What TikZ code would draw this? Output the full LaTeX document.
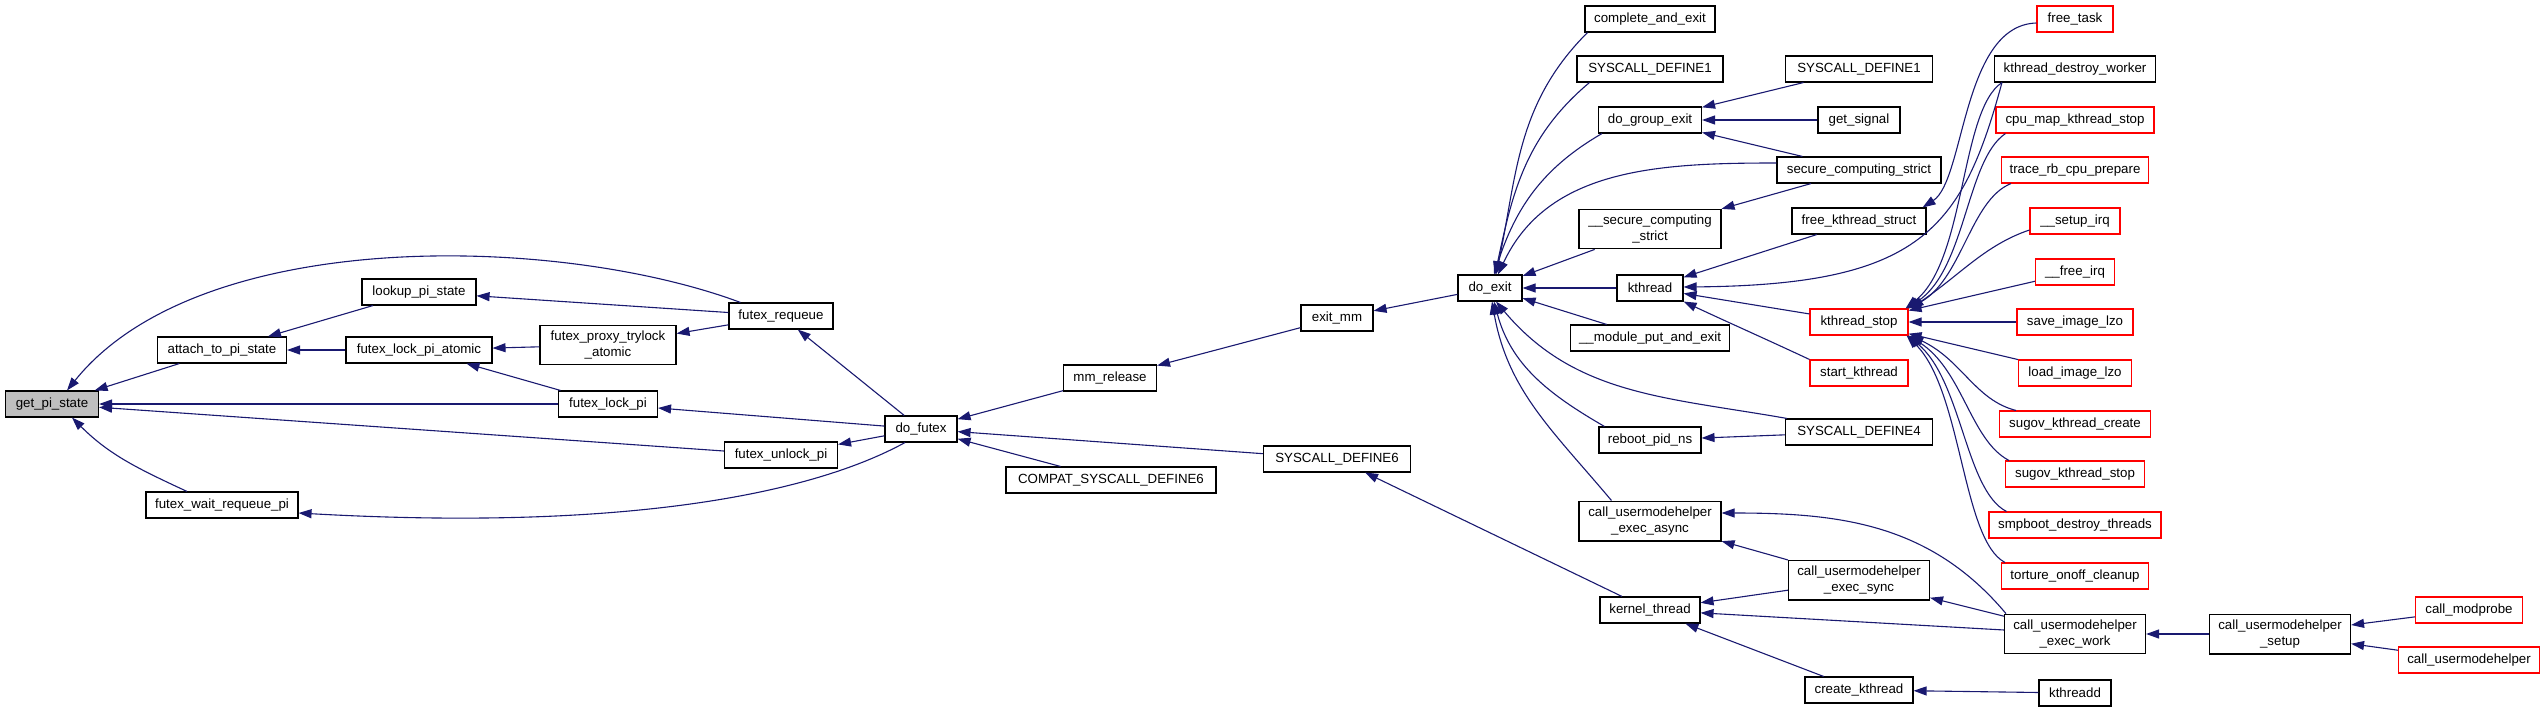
\documentclass[tikz,border=0pt]{standalone}
\usepackage{fontspec}
\setmainfont{Liberation Sans}
\usepackage{xcolor}
\usepackage{tikz}
\usetikzlibrary{arrows.meta}

\definecolor{edgeblue}{HTML}{191970}
\definecolor{rootgray}{HTML}{BFBFBF}

\begin{document}
\begin{tikzpicture}[
        x=1pt, y=1pt,
        font=\fontsize{13.3}{15.5}\selectfont,
        >={Triangle[length=13pt,width=9pt]},
        % box styles
        fn_node/.style={draw=black, fill=white, line width=1.1pt, inner xsep=4pt, inner ysep=6pt, minimum height=26pt, align=center},
        trunc_node/.style={fn_node, draw=red},
        root_node/.style={fn_node, fill=rootgray},
        call_arrow/.style={->, line width=1.1pt, draw=edgeblue}
    ]

    \useasboundingbox (0,0) rectangle (2545,-712);

    % ==========================================
    % 1. nodes, column by column
    % ==========================================

    % --- futex side ---
    \node[root_node, minimum width=93pt] (get_pi) at (52,-404) {get\_pi\_state};
    \node[fn_node, minimum width=129pt] (attach_pi) at (222,-350) {attach\_to\_pi\_state};
    \node[fn_node, minimum width=152pt] (wait_requeue) at (222,-505) {futex\_wait\_requeue\_pi};
    \node[fn_node, minimum width=114pt] (lookup_pi) at (419,-292) {lookup\_pi\_state};
    \node[fn_node, minimum width=146pt] (lock_atomic) at (419,-350) {futex\_lock\_pi\_atomic};
    \node[fn_node, minimum width=136pt] (proxy_trylock) at (608,-345) {futex\_proxy\_trylock\\\_atomic};
    \node[fn_node, minimum width=99pt] (lock_pi) at (608,-404) {futex\_lock\_pi};
    \node[fn_node, minimum width=104pt] (requeue) at (781,-316) {futex\_requeue};
    \node[fn_node, minimum width=113pt] (unlock_pi) at (781,-455) {futex\_unlock\_pi};
    \node[fn_node, minimum width=72pt] (do_futex) at (921,-429) {do\_futex};
    \node[fn_node, minimum width=93pt] (mm_release) at (1110,-378) {mm\_release};
    \node[fn_node, minimum width=210pt] (compat_sys6) at (1111,-480) {COMPAT\_SYSCALL\_DEFINE6};
    \node[fn_node, minimum width=72pt] (exit_mm) at (1337,-318) {exit\_mm};
    \node[fn_node, minimum width=147pt] (sys6) at (1337,-459) {SYSCALL\_DEFINE6};

    % --- do_exit and its callers ---
    \node[fn_node, minimum width=64pt] (do_exit) at (1490,-288) {do\_exit};
    \node[fn_node, minimum width=130pt] (complete_exit) at (1650,-19) {complete\_and\_exit};
    \node[fn_node, minimum width=146pt] (sys1_a) at (1650,-69) {SYSCALL\_DEFINE1};
    \node[fn_node, minimum width=103pt] (group_exit) at (1650,-120) {do\_group\_exit};
    \node[fn_node, minimum width=142pt] (secure_strict2) at (1650,-229) {\_\_secure\_computing\\\_strict};
    \node[fn_node, minimum width=66pt] (kthread) at (1650,-288) {kthread};
    \node[fn_node, minimum width=159pt] (module_put) at (1650,-338) {\_\_module\_put\_and\_exit};
    \node[fn_node, minimum width=102pt] (reboot_pid) at (1650,-440) {reboot\_pid\_ns};
    \node[fn_node, minimum width=142pt] (cuh_async) at (1650,-521) {call\_usermodehelper\\\_exec\_async};
    \node[fn_node, minimum width=100pt] (kernel_thread) at (1650,-610) {kernel\_thread};

    \node[fn_node, minimum width=147pt] (sys1_b) at (1859,-69) {SYSCALL\_DEFINE1};
    \node[fn_node, minimum width=82pt] (get_signal) at (1859,-120) {get\_signal};
    \node[fn_node, minimum width=164pt] (secure_strict) at (1859,-170) {secure\_computing\_strict};
    \node[fn_node, minimum width=134pt] (free_kstruct) at (1859,-221) {free\_kthread\_struct};
    \node[trunc_node, minimum width=98pt] (kthread_stop) at (1859,-322) {kthread\_stop};
    \node[trunc_node, minimum width=98pt] (start_kthread) at (1859,-373) {start\_kthread};
    \node[fn_node, minimum width=147pt] (sys4) at (1859,-432) {SYSCALL\_DEFINE4};
    \node[fn_node, minimum width=141pt] (cuh_sync) at (1859,-580) {call\_usermodehelper\\\_exec\_sync};
    \node[fn_node, minimum width=108pt] (create_kthread) at (1859,-690) {create\_kthread};

    % --- kthread_stop callers ---
    \node[trunc_node, minimum width=76pt] (free_task) at (2075,-19) {free\_task};
    \node[fn_node, minimum width=161pt] (kthread_destroy) at (2075,-69) {kthread\_destroy\_worker};
    \node[trunc_node, minimum width=158pt] (cpu_map) at (2075,-120) {cpu\_map\_kthread\_stop};
    \node[trunc_node, minimum width=147pt] (trace_rb) at (2075,-170) {trace\_rb\_cpu\_prepare};
    \node[trunc_node, minimum width=90pt] (setup_irq) at (2075,-221) {\_\_setup\_irq};
    \node[trunc_node, minimum width=79pt] (free_irq) at (2075,-272) {\_\_free\_irq};
    \node[trunc_node, minimum width=116pt] (save_lzo) at (2075,-322) {save\_image\_lzo};
    \node[trunc_node, minimum width=113pt] (load_lzo) at (2075,-373) {load\_image\_lzo};
    \node[trunc_node, minimum width=151pt] (sugov_create) at (2075,-424) {sugov\_kthread\_create};
    \node[trunc_node, minimum width=139pt] (sugov_stop) at (2075,-474) {sugov\_kthread\_stop};
    \node[trunc_node, minimum width=172pt] (smpboot) at (2075,-525) {smpboot\_destroy\_threads};
    \node[trunc_node, minimum width=147pt] (torture) at (2075,-576) {torture\_onoff\_cleanup};
    \node[fn_node, minimum width=141pt] (cuh_work) at (2075,-634) {call\_usermodehelper\\\_exec\_work};
    \node[fn_node, minimum width=72pt] (kthreadd) at (2075,-693) {kthreadd};

    % --- usermodehelper tail ---
    \node[fn_node, minimum width=141pt] (cuh_setup) at (2280,-634) {call\_usermodehelper\\\_setup};
    \node[trunc_node, minimum width=107pt] (call_modprobe) at (2469,-610) {call\_modprobe};
    \node[trunc_node, minimum width=141pt] (call_umh) at (2469,-660) {call\_usermodehelper};

    % ==========================================
    % 2. call edges (caller -> callee)
    % ==========================================

    % --- into get_pi_state ---
    \draw[call_arrow] (attach_pi) -- (get_pi);
    \draw[call_arrow] ([xshift=12pt]requeue.north west) .. controls (560,-235) and (200,-225) .. ([xshift=15pt]get_pi.north);
    \draw[call_arrow] (lock_pi) -- (get_pi);
    \draw[call_arrow] (unlock_pi) -- (get_pi);
    \draw[call_arrow] ([xshift=-35pt]wait_requeue.north) to[out=155, in=-45] ([xshift=20pt]get_pi.south);

    % --- futex helpers ---
    \draw[call_arrow] (lookup_pi) -- (attach_pi);
    \draw[call_arrow] (lock_atomic) -- (attach_pi);
    \draw[call_arrow] (requeue) -- (lookup_pi);
    \draw[call_arrow] (proxy_trylock) -- (lock_atomic);
    \draw[call_arrow] (lock_pi) -- (lock_atomic);
    \draw[call_arrow] (requeue) -- (proxy_trylock);

    % --- do_futex fan-out ---
    \draw[call_arrow] (do_futex) -- (requeue);
    \draw[call_arrow] (do_futex) -- (lock_pi);
    \draw[call_arrow] (do_futex) -- (unlock_pi);
    \draw[call_arrow] ([xshift=-16pt]do_futex.south) .. controls (800,-500) and (600,-530) .. ([yshift=-8pt]wait_requeue.east);
    \draw[call_arrow] (mm_release) -- (do_futex);
    \draw[call_arrow] (sys6) -- (do_futex);
    \draw[call_arrow] (compat_sys6) -- (do_futex);
    \draw[call_arrow] (exit_mm) -- (mm_release);
    \draw[call_arrow] (do_exit) -- (exit_mm);
    \draw[call_arrow] (kernel_thread) -- (sys6);

    % --- into do_exit ---
    \draw[call_arrow] ([xshift=3pt]complete_exit.south west) to[out=-135, in=78] ([xshift=6pt]do_exit.north);
    \draw[call_arrow] ([xshift=13pt]sys1_a.south west) to[out=-140, in=78] ([xshift=5pt]do_exit.north);
    \draw[call_arrow] ([xshift=4pt]group_exit.south west) to[out=-150, in=72] ([xshift=4pt]do_exit.north);
    \draw[call_arrow] ([yshift=7pt]secure_strict.west) to[out=180, in=65] ([xshift=8pt]do_exit.north);
    \draw[call_arrow] (secure_strict2) -- (do_exit);
    \draw[call_arrow] (kthread) -- (do_exit);
    \draw[call_arrow] (module_put) -- (do_exit);
    \draw[call_arrow] ([xshift=2pt]sys4.north west) to[out=170, in=-50] ([xshift=6pt]do_exit.south);
    \draw[call_arrow] ([xshift=6pt]reboot_pid.north west) to[out=150, in=-75] ([xshift=4pt]do_exit.south);
    \draw[call_arrow] ([xshift=33pt]cuh_async.north west) to[out=130, in=-80] ([xshift=2pt]do_exit.south);

    % --- do_group_exit / secure computing ---
    \draw[call_arrow] (sys1_b) -- (group_exit);
    \draw[call_arrow] (get_signal) -- (group_exit);
    \draw[call_arrow] (secure_strict) -- (group_exit);
    \draw[call_arrow] (secure_strict) -- (secure_strict2);

    % --- into kthread ---
    \draw[call_arrow] (free_kstruct) -- (kthread);
    \draw[call_arrow] (kthread_stop) -- (kthread);
    \draw[call_arrow] (start_kthread.north west) to[out=155, in=-25] (kthread.south east);
    \draw[call_arrow] ([xshift=8pt]kthread_destroy.south west) .. controls (1962,-230) and (1920,-285) .. ([yshift=1pt]kthread.east);
    \draw[call_arrow] ([yshift=-4pt]free_task.west) .. controls (1962,-25) and (1965,-180) .. ([xshift=-4pt]free_kstruct.north east);

    % --- into kthread_stop ---
    \draw[call_arrow] ([xshift=8pt]kthread_destroy.south west) .. controls (1960,-110) and (1966,-260) .. ([xshift=-3pt]kthread_stop.north east);
    \draw[call_arrow] ([xshift=10pt]cpu_map.south west) .. controls (1966,-160) and (1966,-270) .. ([xshift=-2pt]kthread_stop.north east);
    \draw[call_arrow] ([xshift=10pt]trace_rb.south west) .. controls (1970,-200) and (1962,-280) .. (kthread_stop.north east);
    \draw[call_arrow] ([yshift=-9pt]setup_irq.west) .. controls (1985,-245) and (1960,-275) .. ([xshift=2pt]kthread_stop.north east);
    \draw[call_arrow] (free_irq) -- (kthread_stop);
    \draw[call_arrow] (save_lzo) -- (kthread_stop);
    \draw[call_arrow] (load_lzo) -- (kthread_stop);
    \draw[call_arrow] ([xshift=17pt]sugov_create.north west) .. controls (1975,-400) and (1962,-360) .. ([xshift=2pt]kthread_stop.south east);
    \draw[call_arrow] ([xshift=4pt]sugov_stop.north west) .. controls (1970,-440) and (1963,-370) .. (kthread_stop.south east);
    \draw[call_arrow] ([xshift=18pt]smpboot.north west) .. controls (1965,-490) and (1962,-380) .. ([xshift=-1pt]kthread_stop.south east);
    \draw[call_arrow] ([xshift=4pt]torture.north west) .. controls (1962,-540) and (1962,-390) .. ([xshift=-2pt]kthread_stop.south east);

    % --- reboot / usermodehelper chain ---
    \draw[call_arrow] (sys4) -- (reboot_pid);
    \draw[call_arrow] (cuh_sync) -- (kernel_thread);
    \draw[call_arrow] (cuh_work) -- (kernel_thread);
    \draw[call_arrow] (create_kthread) -- (kernel_thread);
    \draw[call_arrow] (cuh_sync) -- (cuh_async);
    \draw[call_arrow] ([xshift=2pt]cuh_work.north west) to[out=130, in=0] ([yshift=8pt]cuh_async.east);
    \draw[call_arrow] (cuh_work) -- (cuh_sync);
    \draw[call_arrow] (cuh_setup) -- (cuh_work);
    \draw[call_arrow] (call_modprobe) -- (cuh_setup);
    \draw[call_arrow] (call_umh) -- (cuh_setup);
    \draw[call_arrow] (kthreadd) -- (create_kthread);

\end{tikzpicture}
\end{document}
